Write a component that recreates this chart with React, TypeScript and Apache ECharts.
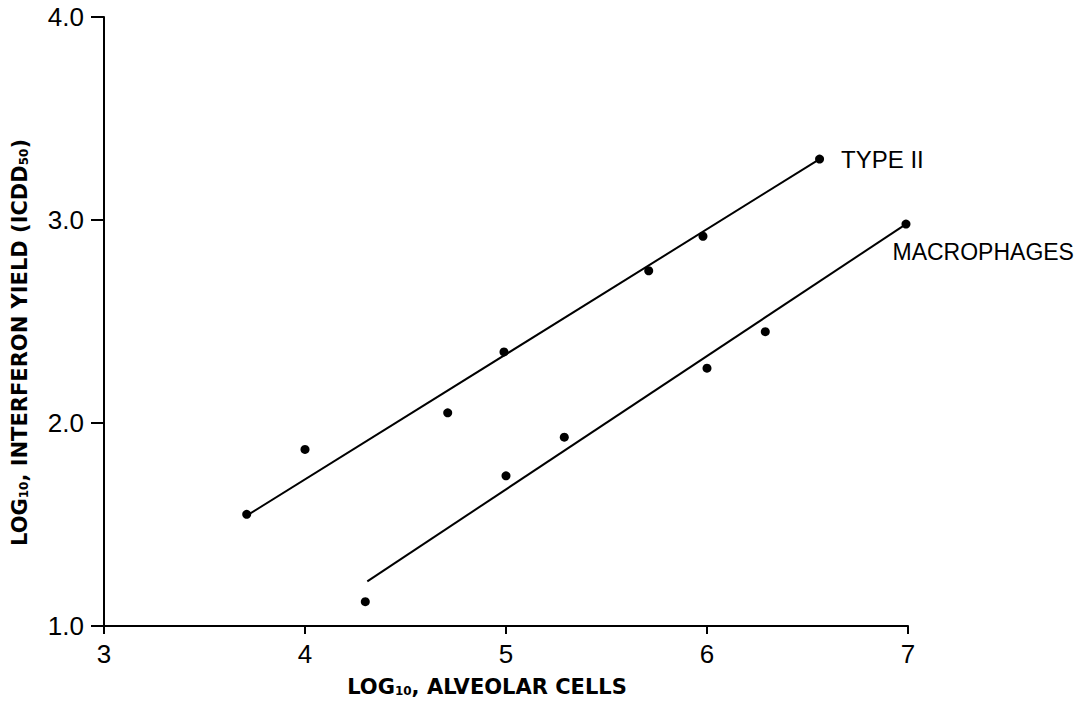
import React, { useEffect, useRef } from "react";
import * as echarts from "echarts";

const xTicks = [3, 4, 5, 6, 7];
const yTicks = [1.0, 2.0, 3.0, 4.0];

const typeIIPoints: number[][] = [
  [3.71, 1.55],
  [4.0, 1.87],
  [4.71, 2.05],
  [4.99, 2.35],
  [5.71, 2.75],
  [5.98, 2.92],
  [6.56, 3.3],
];
const macroPoints: number[][] = [
  [4.3, 1.12],
  [5.0, 1.74],
  [5.29, 1.93],
  [6.0, 2.27],
  [6.29, 2.45],
  [6.99, 2.98],
];
const typeIILine: number[][] = [
  [3.72, 1.55],
  [6.56, 3.3],
];
const macroLine: number[][] = [
  [4.31, 1.22],
  [6.99, 2.98],
];
const seriesNames = ["TYPE II", "MACROPHAGES"];

const FONT = "Liberation Sans";
const BOLD_FONT = "DejaVu Sans";

export default function App() {
  const ref = useRef<HTMLDivElement>(null);
  useEffect(() => {
    if (!ref.current) return;
    const chart = echarts.init(ref.current, null, { renderer: "svg" });
    const lastIdx = (arr: number[][]) => arr.length - 1;
    const typeIIData = typeIIPoints.map((p, i) =>
      i === lastIdx(typeIIPoints)
        ? {
            value: p,
            label: {
              show: true,
              formatter: seriesNames[0],
              position: "right",
              distance: 17,
              color: "#000",
              fontFamily: FONT,
              fontSize: 24,
            },
          }
        : { value: p }
    );
    const macroData = macroPoints.map((p, i) =>
      i === lastIdx(macroPoints)
        ? {
            value: p,
            label: {
              show: true,
              formatter: seriesNames[1],
              position: [-9, 32],
              align: "left",
              verticalAlign: "middle",
              color: "#000",
              fontFamily: FONT,
              fontSize: 23,
            },
          }
        : { value: p }
    );
    const nameRich = {
      sub: { fontSize: 12, fontWeight: "bold", fontFamily: BOLD_FONT, verticalAlign: "bottom", padding: [7, 0, 0, 0], color: "#000" },
    };
    chart.setOption({
      animation: false,
      backgroundColor: "#fff",
      grid: { left: 104, right: 179, top: 17, bottom: 76, containLabel: false, outerBoundsMode: "none" },
      xAxis: {
        type: "value",
        min: xTicks[0],
        max: xTicks[xTicks.length - 1],
        interval: 1,
        name: "LOG{sub|10}, ALVEOLAR CELLS",
        nameLocation: "middle",
        nameGap: 50,
        nameTextStyle: {
          fontFamily: BOLD_FONT,
          fontWeight: "bold",
          fontSize: 21,
          color: "#000",
          padding: [0, 38, 0, 0],
          rich: nameRich,
        },
        axisLine: { show: true, onZero: false, lineStyle: { color: "#000", width: 2 } },
        axisTick: { show: true, length: 8, lineStyle: { color: "#000", width: 2 } },
        axisLabel: { margin: 15, color: "#000", fontFamily: FONT, fontSize: 26 },
        splitLine: { show: false },
      },
      yAxis: {
        type: "value",
        min: yTicks[0],
        max: yTicks[yTicks.length - 1],
        interval: 1,
        name: "LOG{sub|10}, INTERFERON YIELD (ICDD{sub|50})",
        nameLocation: "middle",
        nameRotate: 90,
        nameGap: 74,
        nameTextStyle: {
          fontFamily: BOLD_FONT,
          fontWeight: "bold",
          fontSize: 21,
          color: "#000",
          padding: [0, 42, 0, 0],
          rich: nameRich,
        },
        axisLine: { show: true, onZero: false, lineStyle: { color: "#000", width: 2 } },
        axisTick: { show: true, length: 13, lineStyle: { color: "#000", width: 2 } },
        axisLabel: {
          margin: 20,
          color: "#000",
          fontFamily: FONT,
          fontSize: 26,
          formatter: (v: number) => v.toFixed(1),
        },
        splitLine: { show: false },
      },
      series: [
        {
          name: seriesNames[0] + " fit",
          type: "line",
          data: typeIILine,
          showSymbol: false,
          symbol: "none",
          lineStyle: { color: "#000", width: 2 },
          z: 2,
        },
        {
          name: seriesNames[1] + " fit",
          type: "line",
          data: macroLine,
          showSymbol: false,
          symbol: "none",
          lineStyle: { color: "#000", width: 2 },
          z: 2,
        },
        {
          name: seriesNames[0],
          type: "scatter",
          data: typeIIData,
          symbol: "circle",
          symbolSize: 9,
          itemStyle: { color: "#000", opacity: 1 },
          z: 3,
        },
        {
          name: seriesNames[1],
          type: "scatter",
          data: macroData,
          symbol: "circle",
          symbolSize: 9,
          itemStyle: { color: "#000", opacity: 1 },
          z: 3,
        },
      ],
    });
    return () => chart.dispose();
  }, []);
  return <div ref={ref} style={{ width: 1087, height: 702, position: "absolute", left: 0, top: 0 }} />;
}
